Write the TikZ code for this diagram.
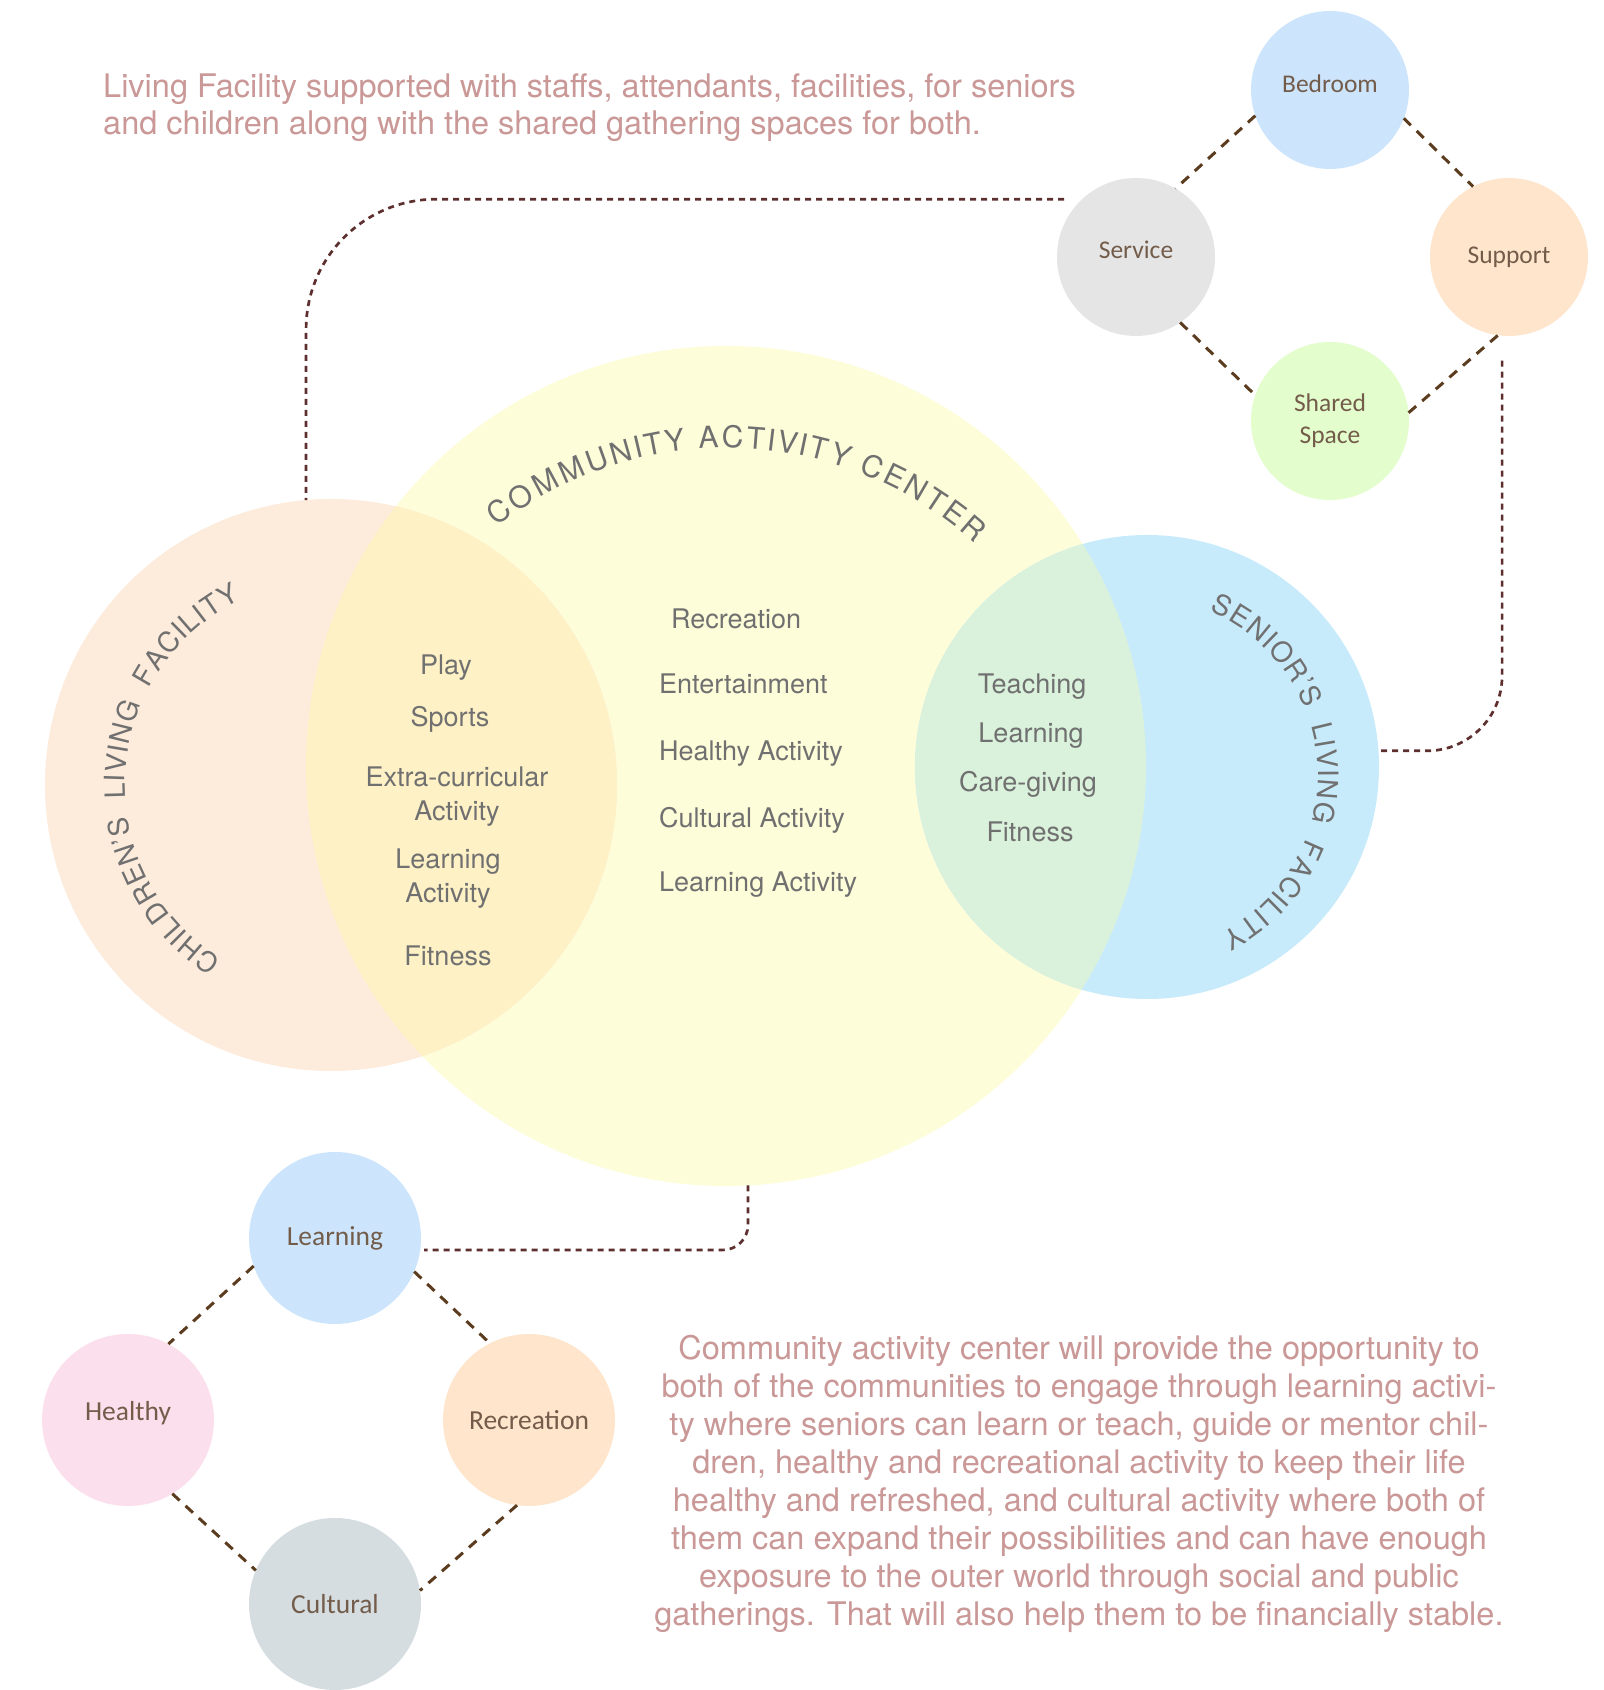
\documentclass[tikz,border=0pt]{standalone}
\usepackage{fontspec}
\setmainfont{TeX Gyre Heros}
\newfontfamily\roomfont{Carlito}
\usetikzlibrary{decorations.text}

\definecolor{childfill}{HTML}{FDEBDB}
\definecolor{commfill}{HTML}{FEFDD9}
\definecolor{childcomm}{HTML}{FEF1C5}
\definecolor{seniorfill}{HTML}{C8EBFC}
\definecolor{seniorcomm}{HTML}{DAF2DB}
\definecolor{bluefill}{HTML}{CCE5FC}
\definecolor{greyfill}{HTML}{E5E5E5}
\definecolor{orangefill}{HTML}{FEE5CC}
\definecolor{greenfill}{HTML}{E3FDCC}
\definecolor{pinkfill}{HTML}{FCDFEC}
\definecolor{slatefill}{HTML}{D5DDE1}
\definecolor{tiecol}{HTML}{5B3C1E}
\definecolor{linkcol}{HTML}{5E2F2F}
\definecolor{itemgray}{HTML}{707070}
\definecolor{roomtext}{HTML}{735C4A}
\definecolor{notepink}{HTML}{C99897}

\newcommand{\arcfont}{\fontsize{30}{36}\selectfont}
\newcommand{\sidearcfont}{\fontsize{28}{34}\selectfont}

\tikzset{
  zone/.style={circle, inner sep=0pt, outer sep=0pt},
  room/.style={circle, inner sep=0pt, outer sep=0pt, minimum size=158pt, text=roomtext, font=\roomfont\fontsize{25.5}{32}\selectfont},
  bigroom/.style={room, minimum size=172pt, font=\roomfont\fontsize{27.5}{33}\selectfont},
  item/.style={inner sep=0pt, text=itemgray, font=\fontsize{27}{34}\selectfont},
  note/.style={inner sep=0pt, text=notepink, font=\fontsize{32.5}{38}\selectfont},
  tie/.style={draw=tiecol, line width=3pt, dash pattern=on 10pt off 8pt},
  link/.style={draw=linkcol, line width=2.7pt, dash pattern=on 6pt off 5pt},
  arclabel/.style 2 args={decorate, decoration={text effects along path, text={#2},
    text effects/.cd, text along path, fit text to path,
    characters={text=itemgray, font=#1}}}
}

\begin{document}
\begin{tikzpicture}[x=1pt, y=1pt]
\useasboundingbox (0,0) rectangle (1604,1690);
\fill[white] (0,0) rectangle (1604,1690);

% the three zones
\node[zone, minimum size=840pt, fill=commfill] (comm) at (726,924) {};
\node[zone, minimum size=572pt, fill=childfill] (child) at (331,905) {};
\node[zone, minimum size=464pt, fill=seniorfill] (sen) at (1147,923) {};
\begin{scope}
  \clip (331,905) circle (286pt);
  \fill[childcomm] (726,924) circle (420pt);
\end{scope}
\begin{scope}
  \clip (1147,923) circle (232pt);
  \fill[seniorcomm] (726,924) circle (420pt);
\end{scope}

% curved titles
\coordinate (commarc) at (726,870);
\coordinate (childarc) at (331,905);
\coordinate (senarc) at (1140,915);
\path[arclabel={\arcfont}{COMMUNITY ACTIVITY CENTER}] ([shift={(128:372pt)}]commarc) arc[start angle=128, end angle=48, radius=372pt];
\path[arclabel={\sidearcfont}{CHILDREN’S~~LIVING~~FACILITY}] ([shift={(238:206pt)}]childarc) arc[start angle=238, end angle=116, radius=206pt];
\path[arclabel={\sidearcfont}{SENIOR’S~~LIVING~~FACILITY}] ([shift={(67:178pt)}]senarc) arc[start angle=67, end angle=-63, radius=178pt];

% children and community
\node[item, anchor=base] (play) at (446,1015) {Play};
\node[item, anchor=base] (sports) at (450,963) {Sports};
\node[item, align=center] (extra) at (457,893) {Extra-curricular\\Activity};
\node[item, align=center] (learnkid) at (448,811) {Learning\\Activity};
\node[item, anchor=base] (fitkid) at (448,724) {Fitness};

% community
\node[item, anchor=base west] (recr) at (671,1061) {Recreation};
\node[item, anchor=base west] (ent) at (659,996) {Entertainment};
\node[item, anchor=base west] (healthact) at (659,929) {Healthy Activity};
\node[item, anchor=base west] (cultact) at (659,862) {Cultural Activity};
\node[item, anchor=base west] (learnact) at (659,798) {Learning Activity};

% seniors and community
\node[item, anchor=base] (teach) at (1032,996) {Teaching};
\node[item, anchor=base] (learnsen) at (1031,947) {Learning};
\node[item, anchor=base] (care) at (1028,898) {Care-giving};
\node[item, anchor=base] (fitsen) at (1030,848) {Fitness};

% living facility rooms
\node[room, fill=bluefill, text depth=13pt] (bed) at (1330,1600) {Bedroom};
\node[room, fill=greyfill, text depth=15pt] (serv) at (1136,1433) {Service};
\node[room, fill=orangefill] (supp) at (1509,1433) {Support};
\node[room, fill=greenfill, align=center] (shared) at (1330,1269) {Shared\\Space};
\draw[tie] (bed.199) -- (serv.60);
\draw[tie] (bed.-21) -- (supp.117);
\draw[tie] (serv.-56) -- (shared.161);
\draw[tie] (shared.6) -- (supp.262);

% activity rooms
\node[bigroom, fill=bluefill] (learn) at (335,452) {Learning};
\node[bigroom, fill=pinkfill, text depth=19pt] (heal) at (128,270) {Healthy};
\node[bigroom, fill=orangefill] (recrea) at (529,270) {Recreation};
\node[bigroom, fill=slatefill] (cult) at (335,86) {Cultural};
\draw[tie] (learn.199) -- (heal.62);
\draw[tie] (learn.-23) -- (recrea.117);
\draw[tie] (heal.-59) -- (cult.157);
\draw[tie] (recrea.262) -- (cult.9);

% links
\draw[link, rounded corners=130pt] ([xshift=-18pt]serv.133) -| (child.95);
\draw[link, rounded corners=75pt] ([yshift=-25pt]supp.265) |- (sen.4);
\draw[link, rounded corners=25pt] (comm.273) |- ([xshift=4pt]learn.-8);

% notes
\node[note, anchor=north west, align=left, font=\fontsize{32.5}{37}\selectfont] (topnote) at (103,1616)
  {Living Facility supported with staffs, attendants, facilities, for seniors\\and children along with the shared gathering spaces for both.};
\node[note, anchor=north, align=center] (bottomnote) at (1079,355)
  {Community activity center will provide the opportunity to\\
   both of the communities to engage through learning activi-\\
   ty where seniors can learn or teach, guide or mentor chil-\\
   dren, healthy and recreational activity to keep their life\\
   healthy and refreshed, and cultural activity where both of\\
   them can expand their possibilities and can have enough\\
   exposure to the outer world through social and public\\
   gatherings. That will also help them to be financially stable.};
\end{tikzpicture}
\end{document}
